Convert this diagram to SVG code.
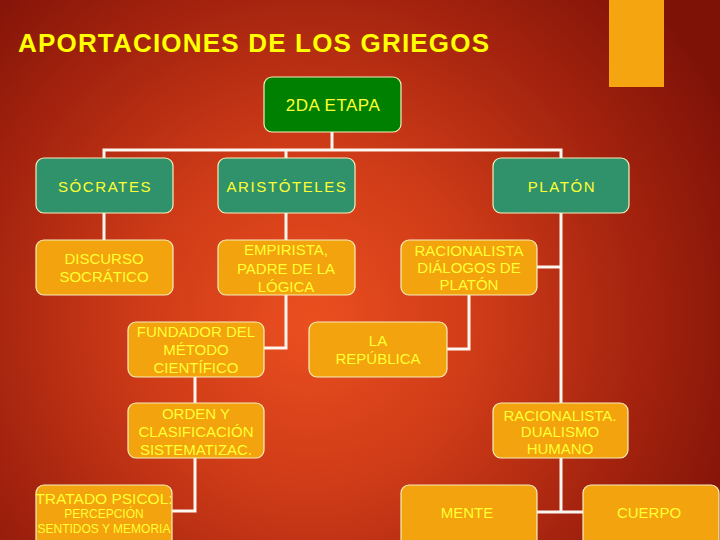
<svg xmlns="http://www.w3.org/2000/svg" width="720" height="540" viewBox="0 0 720 540">
<defs>
<radialGradient id="bg" gradientUnits="userSpaceOnUse" cx="310" cy="320" r="470">
<stop offset="0" stop-color="#ea4f1f"/>
<stop offset="0.35" stop-color="#d03c18"/>
<stop offset="0.72" stop-color="#a2220e"/>
<stop offset="1" stop-color="#7e1207"/>
</radialGradient>
<style>
.conn{stroke:#fbf6ee;stroke-width:3;fill:none}
.box{stroke:#f6eebc;stroke-width:1.2}
.g{fill:#2f926a}
.dg{fill:#008000}
.o{fill:#f3a30e}
.tg{font-family:"Liberation Sans",Arial,sans-serif;font-size:15px;letter-spacing:1.6px;fill:#ffff33;text-anchor:middle}
.to{font-family:"Liberation Sans",Arial,sans-serif;font-size:15px;fill:#ffff33;text-anchor:middle}
.ts{font-family:"Liberation Sans",Arial,sans-serif;font-size:12px;fill:#ffff33;text-anchor:middle}
.title{font-family:"Liberation Sans",Arial,sans-serif;font-size:26px;font-weight:bold;fill:#ffff00}
</style>
</defs>
<rect width="720" height="540" fill="url(#bg)"/>
<rect x="609" y="0" width="55" height="87" fill="#f5a510"/>
<text class="title" x="18" y="52" textLength="471" lengthAdjust="spacing">APORTACIONES DE LOS GRIEGOS</text>
<g id="connectors">
<path class="conn" d="M332,132 V150 M102.5,150 H562.5 M104,150 V158 M286,150 V158 M561,150 V158"/>
<path class="conn" d="M104,213 V240"/>
<path class="conn" d="M286,213 V348 H264"/>
<path class="conn" d="M195,377 V403"/>
<path class="conn" d="M195,458 V511 H172"/>
<path class="conn" d="M561,213 V403 M537,267 H561"/>
<path class="conn" d="M469,295 V349 H447"/>
<path class="conn" d="M561,458 V512 M537,512 H583"/>
</g>
<g id="etapa"><rect class="box dg" x="264" y="77" width="137" height="55" rx="8"/><text class="tg" style="font-size:17px;letter-spacing:0.5px" x="333" y="111">2DA ETAPA</text></g>
<g id="socrates"><rect class="box g" x="36" y="158" width="137" height="55" rx="8"/><text class="tg" x="105" y="192">SÓCRATES</text></g>
<g id="aristoteles"><rect class="box g" x="218" y="158" width="137" height="55" rx="8"/><text class="tg" x="287" y="192">ARISTÓTELES</text></g>
<g id="platon"><rect class="box g" x="493" y="158" width="136" height="55" rx="8"/><text class="tg" x="562" y="192">PLATÓN</text></g>
<g id="discurso"><rect class="box o" x="36" y="240" width="137" height="55" rx="8"/><text class="to" x="104" y="264"><tspan x="104">DISCURSO</tspan><tspan x="104" dy="18">SOCRÁTICO</tspan></text></g>
<g id="empirista"><rect class="box o" x="218" y="240" width="137" height="55" rx="8"/><text class="to" x="286" y="255"><tspan x="286">EMPIRISTA,</tspan><tspan x="286" dy="19">PADRE DE LA</tspan><tspan x="286" dy="18">LÓGICA</tspan></text></g>
<g id="racionalista"><rect class="box o" x="401" y="240" width="136" height="55" rx="8"/><text class="to" x="469" y="256"><tspan x="469">RACIONALISTA</tspan><tspan x="469" dy="17">DIÁLOGOS DE</tspan><tspan x="469" dy="17">PLATÓN</tspan></text></g>
<g id="fundador"><rect class="box o" x="128" y="322" width="136" height="55" rx="8"/><text class="to" x="196" y="337"><tspan x="196">FUNDADOR DEL</tspan><tspan x="196" dy="18">MÉTODO</tspan><tspan x="196" dy="18">CIENTÍFICO</tspan></text></g>
<g id="republica"><rect class="box o" x="309" y="322" width="138" height="55" rx="8"/><text class="to" x="378" y="346"><tspan x="378">LA</tspan><tspan x="378" dy="18">REPÚBLICA</tspan></text></g>
<g id="orden"><rect class="box o" x="128" y="403" width="136" height="55" rx="8"/><text class="to" x="196" y="419"><tspan x="196">ORDEN Y</tspan><tspan x="196" dy="18">CLASIFICACIÓN</tspan><tspan x="196" dy="18">SISTEMATIZAC.</tspan></text></g>
<g id="dualismo"><rect class="box o" x="493" y="403" width="135" height="55" rx="8"/><text class="to" x="560" y="421"><tspan x="560">RACIONALISTA.</tspan><tspan x="560" dy="16">DUALISMO</tspan><tspan x="560" dy="17">HUMANO</tspan></text></g>
<g id="tratado"><rect class="box o" x="36" y="485" width="136" height="62" rx="8"/><text class="to" style="font-size:15.5px" x="104" y="504">TRATADO PSICOL:</text><text class="ts" x="104" y="518"><tspan x="104">PERCEPCIÓN</tspan><tspan x="104" dy="15">SENTIDOS Y MEMORIA</tspan></text></g>
<g id="mente"><rect class="box o" x="401" y="485" width="136" height="62" rx="8"/><text class="to" x="467" y="518">MENTE</text></g>
<g id="cuerpo"><rect class="box o" x="583" y="485" width="136" height="62" rx="8"/><text class="to" x="649" y="518">CUERPO</text></g>
</svg>
